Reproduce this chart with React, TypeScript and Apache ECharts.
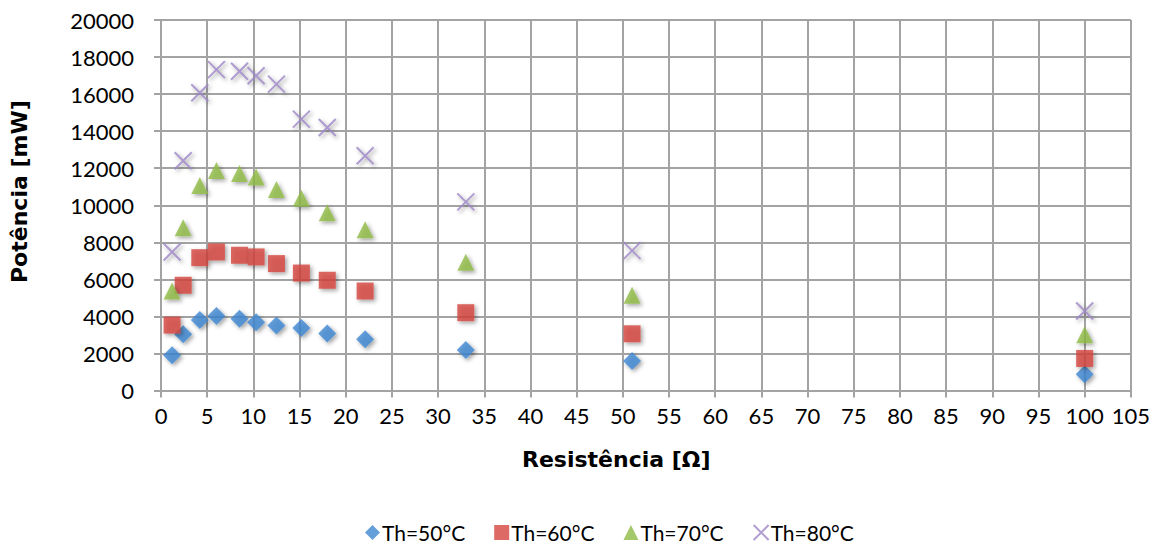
import React, { useEffect, useRef } from "react";
import * as echarts from "echarts";

const resistance = [1.2, 2.4, 4.2, 6, 8.5, 10.3, 12.5, 15.2, 18, 22.1, 33, 51, 100];
const th50 = [1900, 3030, 3800, 4020, 3870, 3690, 3510, 3370, 3080, 2760, 2180, 1590, 880];
const th60 = [3530, 5680, 7170, 7480, 7300, 7210, 6850, 6340, 5950, 5370, 4200, 3060, 1730];
const th70 = [5370, 8790, 11060, 11870, 11710, 11530, 10850, 10380, 9600, 8680, 6920, 5140, 3010];
const th80 = [7480, 12400, 16070, 17320, 17230, 16990, 16540, 14650, 14200, 12670, 10180, 7550, 4290];
const seriesNames = ["Th=50°C", "Th=60°C", "Th=70°C", "Th=80°C"];
const xTitle = "Resistência [Ω]";
const yTitle = "Potência [mW]";

const FONT = "Lato, 'Open Sans', sans-serif";
const TFONT = "'DejaVu Sans', 'Open Sans', sans-serif";
const GRID = "#a3a3a3";
const X_PATH = "path://M0,0L10,10M10,0L0,10";

export default function App() {
  const ref = useRef<HTMLDivElement>(null);
  useEffect(() => {
    if (!ref.current) return;
    const chart = echarts.init(ref.current, undefined, { renderer: "svg" });
    const shadow = {
      shadowBlur: 4,
      shadowColor: "rgba(0,0,0,0.45)",
      shadowOffsetX: 2,
      shadowOffsetY: 2,
    };
    const mk = (vals: number[]) => resistance.map((r, i) => [r, vals[i]]);
    chart.setOption({
      animation: false,
      backgroundColor: "#ffffff",
      grid: { left: 161, right: 21, top: 20, bottom: 153.5, containLabel: false },
      xAxis: {
        type: "value",
        min: 0,
        max: 105,
        interval: 5,
        axisLine: { show: true, lineStyle: { color: GRID, width: 2 } },
        axisTick: { show: true, length: 7, lineStyle: { color: GRID, width: 2 } },
        axisLabel: { color: "#000", fontSize: 22, fontFamily: FONT, margin: 14, formatter: (v: number) => String(v) },
        splitLine: { show: true, lineStyle: { color: GRID, width: 2 } },
      },
      yAxis: {
        type: "value",
        min: 0,
        max: 20000,
        interval: 2000,
        axisLine: { show: true, lineStyle: { color: GRID, width: 2 } },
        axisTick: { show: true, length: 7, lineStyle: { color: GRID, width: 2 } },
        axisLabel: { color: "#000", fontSize: 22, fontFamily: FONT, margin: 27, formatter: (v: number) => String(v) },
        splitLine: { show: true, lineStyle: { color: GRID, width: 2 } },
      },
      legend: {
        left: 360,
        top: 517,
        itemWidth: 15,
        itemHeight: 15,
        itemGap: 29,
        textStyle: { fontSize: 21, fontFamily: FONT, color: "#000", padding: [0, 0, 0, -3] },
        data: seriesNames,
      },
      graphic: [
        {
          type: "text",
          left: 522,
          top: 448,
          style: { text: xTitle, font: `bold 22px ${TFONT}`, fill: "#000" },
        },
        {
          type: "text",
          x: 8,
          y: 283,
          rotation: Math.PI / 2,
          style: { text: yTitle, font: `bold 22px ${TFONT}`, fill: "#000" },
        },
      ],
      series: [
        {
          name: seriesNames[0],
          type: "scatter",
          symbol: "diamond",
          symbolSize: 18,
          itemStyle: { color: "#3d87d1", ...shadow },
          data: mk(th50),
        },
        {
          name: seriesNames[1],
          type: "scatter",
          symbol: "rect",
          symbolSize: 17,
          itemStyle: { color: "#d5453d", ...shadow },
          data: mk(th60),
        },
        {
          name: seriesNames[2],
          type: "scatter",
          symbol: "triangle",
          symbolSize: 17,
          itemStyle: { color: "#8fba45", ...shadow },
          data: mk(th70),
        },
        {
          name: seriesNames[3],
          type: "scatter",
          symbol: X_PATH,
          symbolSize: 17,
          itemStyle: { color: "#9c86c6", borderColor: "#9c86c6", borderWidth: 2, ...shadow },
          data: mk(th80),
        },
      ],
    });
    return () => chart.dispose();
  }, []);
  return (
    <div
      ref={ref}
      style={{ position: "fixed", left: 0, top: 0, width: 1153, height: 544, background: "#fff" }}
    />
  );
}
